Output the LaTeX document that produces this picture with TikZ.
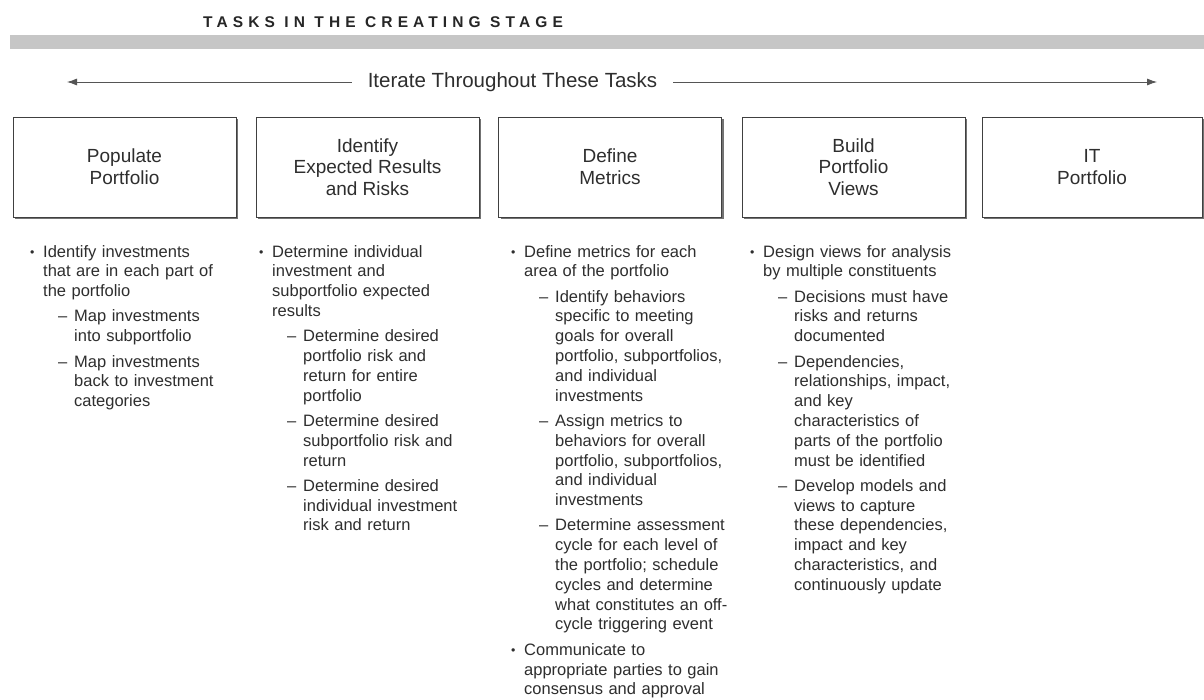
\documentclass[tikz,border=0pt]{standalone}
\usepackage{fontspec}
\setmainfont{Liberation Sans}
\newfontfamily\titlefont[LetterSpace=33]{Liberation Sans}
\usetikzlibrary{arrows.meta,shadows}
\definecolor{txt}{HTML}{2E2E2E}
\definecolor{barc}{HTML}{C6C6C6}
\definecolor{linec}{HTML}{555555}
\newlength\itgap \setlength\itgap{5.5pt}
\newcommand\bitem[1]{\par\hangindent=13pt\hangafter=1\noindent\makebox[13pt][l]{\raisebox{0.1ex}{\scalebox{0.75}{\textbullet}}}#1\par}
\newcommand\sitem[1]{\par\vskip\itgap\hangindent=44pt\hangafter=1\noindent\hspace*{28pt}\makebox[16pt][l]{–}#1\par}
\tikzset{
  taskbox/.style={draw=black!75, line width=0.9pt, fill=white, align=center,
    minimum width=223pt, minimum height=100pt, inner sep=0pt, text=txt,
    font=\fontsize{19}{21.7}\selectfont,
    drop shadow={shadow xshift=2pt, shadow yshift=-2pt, fill=black!55, opacity=1}},
  col/.style={anchor=north west, inner sep=0pt, text width=240pt, align=left, text=txt,
    font=\fontsize{16.5}{19.8}\selectfont},
  arr/.style={draw=linec, line width=0.8pt, -{Latex[length=10pt,width=7pt]}},
}
\begin{document}
\begin{tikzpicture}[x=1pt,y=-1pt]
\useasboundingbox (0,0) rectangle (1204,699);
\fill[white] (0,0) rectangle (1204,699);
\node[anchor=west, inner sep=0pt, text=black!85, font=\titlefont\bfseries\fontsize{15.5}{18}\selectfont] (title) at (203,22) {TASKS IN THE CREATING STAGE};
\node[anchor=north west, fill=barc, minimum width=1194pt, minimum height=14pt, inner sep=0pt] (bar) at (10,35) {};
\coordinate (la) at (67,82);
\coordinate (ra) at (1157,82);
\node[inner xsep=16pt, inner ysep=0pt, text=txt, font=\fontsize{20.5}{24}\selectfont] (it) at (512.5,82) {Iterate Throughout These Tasks};
\draw[arr] (it.west) -- (la);
\draw[arr] (it.east) -- (ra);
\node[taskbox] (b1) at (124.5,167) {Populate\\Portfolio};
\node[taskbox] (b2) at (367.5,167) {Identify\\Expected Results\\and Risks};
\node[taskbox] (b3) at (610,167) {Define\\Metrics};
\node[taskbox] (b4) at (853.5,167) {Build\\Portfolio\\Views};
\node[taskbox, minimum width=220pt] (b5) at (1092,167) {IT\\Portfolio};
\node[col] (c1) at (30,237) {%
\bitem{Identify investments\newline that are in each part of\newline the portfolio}
\sitem{Map investments\newline into subportfolio}
\sitem{Map investments\newline back to investment\newline categories}};
\node[col] (c2) at (259,237) {%
\bitem{Determine individual\newline investment and\newline subportfolio expected\newline results}
\sitem{Determine desired\newline portfolio risk and\newline return for entire\newline portfolio}
\sitem{Determine desired\newline subportfolio risk and\newline return}
\sitem{Determine desired\newline individual investment\newline risk and return}};
\node[col] (c3) at (511,237) {%
\bitem{Define metrics for each\newline area of the portfolio}
\sitem{Identify behaviors\newline specific to meeting\newline goals for overall\newline portfolio, subportfolios,\newline and individual\newline investments}
\sitem{Assign metrics to\newline behaviors for overall\newline portfolio, subportfolios,\newline and individual\newline investments}
\sitem{Determine assessment\newline cycle for each level of\newline the portfolio; schedule\newline cycles and determine\newline what constitutes an off-\newline cycle triggering event}
\vskip\itgap
\bitem{Communicate to\newline appropriate parties to gain\newline consensus and approval}};
\node[col] (c4) at (750,237) {%
\bitem{Design views for analysis\newline by multiple constituents}
\sitem{Decisions must have\newline risks and returns\newline documented}
\sitem{Dependencies,\newline relationships, impact,\newline and key\newline characteristics of\newline parts of the portfolio\newline must be identified}
\sitem{Develop models and\newline views to capture\newline these dependencies,\newline impact and key\newline characteristics, and\newline continuously update}};
\end{tikzpicture}
\end{document}
